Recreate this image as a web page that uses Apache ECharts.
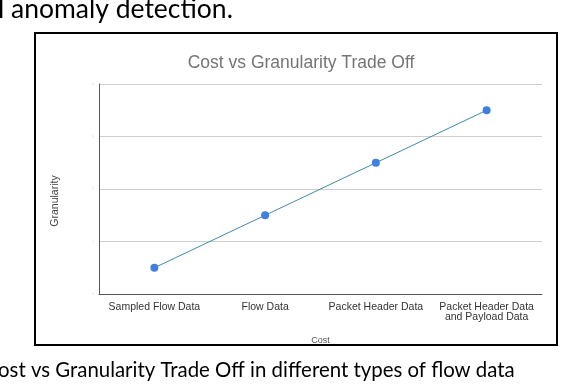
<!DOCTYPE html>
<html>
<head>
<meta charset="utf-8">
<script src="https://cdn.jsdelivr.net/npm/echarts@6/dist/echarts.min.js"></script>
<style>
  html, body { margin: 0; padding: 0; background: #fff; }
  #chart { width: 564px; height: 384px; }
</style>
</head>
<body>
<div id="chart"></div>
<script>
// data
const categories = ['Sampled Flow Data', 'Flow Data', 'Packet Header Data', 'Packet Header Data\nand Payload Data'];
const granularity = [0.5, 1.5, 2.5, 3.5];
const yTicks = [0, 1, 2, 3, 4];

const chart = echarts.init(document.getElementById('chart'));
chart.setOption({
  backgroundColor: '#fff',
  animation: false,
  title: {
    text: 'Cost vs Granularity Trade Off',
    left: 296,
    top: 49,
    textAlign: 'center',
    textStyle: { color: '#757575', fontSize: 17.5, fontWeight: 'normal', fontFamily: 'Liberation Sans' }
  },
  grid: { left: 99, top: 84, right: 22, bottom: 90 },
  xAxis: {
    type: 'category',
    data: categories,
    boundaryGap: true,
    name: 'Cost',
    nameLocation: 'middle',
    nameGap: 42,
    nameTextStyle: { color: '#555', fontSize: 9, fontFamily: 'Liberation Sans' },
    axisLine: { lineStyle: { color: '#555', width: 1 } },
    axisTick: { show: false },
    axisLabel: { color: '#333', fontSize: 10.5, fontFamily: 'Liberation Sans', margin: 8, lineHeight: 10, interval: 0 }
  },
  yAxis: {
    type: 'value',
    min: yTicks[0],
    max: yTicks[yTicks.length - 1],
    interval: 1,
    axisLine: { show: true, lineStyle: { color: '#555', width: 1 } },
    axisTick: { show: false },
    axisLabel: { color: '#ddd', fontSize: 4, margin: 5 },
    splitLine: { lineStyle: { color: '#cfcfcf', width: 1 } }
  },
  series: [{
    type: 'line',
    data: granularity,
    symbol: 'circle',
    symbolSize: 8,
    lineStyle: { color: '#3f8aa8', width: 1 },
    itemStyle: { color: '#3f7fe0' }
  }],
  graphic: [
    {
      type: 'rect',
      shape: { x: 35, y: 33, width: 522, height: 312 },
      style: { fill: 'none', stroke: '#000', lineWidth: 2 },
      z: 10
    },
    {
      // y axis title, sits a bit below the plot centre in the original
      type: 'text',
      x: 55,
      y: 201,
      rotation: Math.PI / 2,
      style: { text: 'Granularity', fill: '#444', font: '10.5px "Liberation Sans"', align: 'center', verticalAlign: 'middle' }
    },
    {
      type: 'text',
      left: -2,
      top: -4,
      style: { text: 'l anomaly detection.', fill: '#000', font: '26.5px Lato' }
    },
    {
      type: 'text',
      left: -2,
      top: 360,
      style: { text: 'ost vs Granularity Trade Off in different types of flow data', fill: '#000', font: '20.4px Lato' }
    }
  ]
});
</script>
</body>
</html>
